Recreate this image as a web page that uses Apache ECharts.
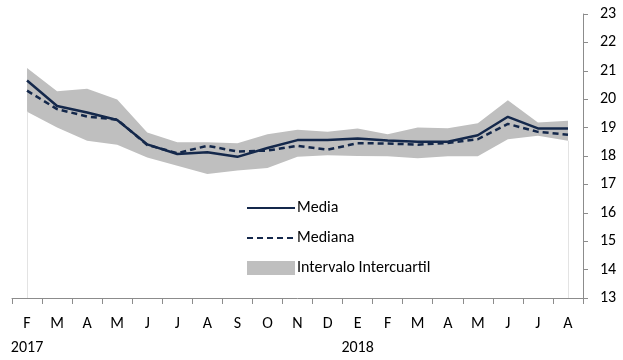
<!DOCTYPE html>
<html>
<head>
<meta charset="utf-8">
<script src="https://cdn.jsdelivr.net/npm/echarts@6/dist/echarts.min.js"></script>
<style>
  html, body { margin: 0; padding: 0; background: #fff; }
  #chart { width: 623px; height: 360px; }
</style>
</head>
<body>
<div id="chart"></div>
<script>
// meses feb-2017 .. ago-2018
const months = ["F", "M", "A", "M", "J", "J", "A", "S", "O", "N", "D", "E", "F", "M", "A", "M", "J", "J", "A"];
const years = { 0: "2017", 11: "2018" };
const media = [20.66, 19.76, 19.53, 19.27, 18.41, 18.07, 18.13, 17.97, 18.28, 18.56, 18.56, 18.62, 18.55, 18.5, 18.5, 18.73, 19.38, 18.97, 18.97];
const mediana = [20.3, 19.65, 19.39, 19.28, 18.39, 18.1, 18.36, 18.16, 18.19, 18.36, 18.22, 18.45, 18.44, 18.4, 18.46, 18.59, 19.13, 18.85, 18.75];
const q1 = [19.56, 19.0, 18.54, 18.4, 17.95, 17.66, 17.37, 17.49, 17.58, 17.97, 18.03, 18.0, 17.99, 17.92, 17.99, 17.99, 18.59, 18.71, 18.54];
const q3 = [21.1, 20.28, 20.37, 19.99, 18.83, 18.48, 18.48, 18.45, 18.77, 18.92, 18.85, 18.97, 18.77, 19.0, 18.98, 19.15, 19.96, 19.18, 19.24];
const yTicks = [13, 23, 1]; // min, max, paso

const categories = months.map((m, i) => "c" + i);
const bandWidth = q3.map((v, i) => +(v - q1[i]).toFixed(2));
const navy = "#14284b";
const font = "Carlito, Lato, sans-serif";

const chart = echarts.init(document.getElementById("chart"));
chart.setOption({
  animation: false,
  textStyle: { fontFamily: font },
  grid: { left: 12, right: 40, top: 14, bottom: 60 },
  legend: {
    orient: "vertical",
    left: 246,
    top: 200,
    padding: 0,
    itemWidth: 48,
    itemHeight: 14,
    itemGap: 14,
    textStyle: { fontSize: 16, color: "#000", fontFamily: font, padding: [0, 0, 0, -3] },
    data: [
      { name: "Media", itemStyle: { opacity: 0 } },
      { name: "Mediana", itemStyle: { opacity: 0 } },
      { name: "Intervalo Intercuartil", icon: "rect" },
    ],
  },
  xAxis: {
    type: "category",
    data: categories,
    boundaryGap: true,
    axisLine: { lineStyle: { color: "#8c8c8c", width: 1 } },
    axisTick: { show: true, interval: 0, length: 6, lineStyle: { color: "#8c8c8c" } },
    axisLabel: {
      interval: 0,
      margin: 14,
      fontSize: 16,
      color: "#000",
      lineHeight: 24,
      formatter: (val, i) => (years[i] !== undefined ? months[i] + "\n" + years[i] : months[i]),
    },
    splitLine: { show: false },
  },
  yAxis: {
    type: "value",
    position: "right",
    min: yTicks[0],
    max: yTicks[1],
    interval: yTicks[2],
    axisLine: { show: true, lineStyle: { color: "#8c8c8c", width: 1 } },
    axisTick: { show: true, inside: false, length: 5, lineStyle: { color: "#8c8c8c" } },
    axisLabel: { fontSize: 16, color: "#000", margin: 17 },
    splitLine: { show: false },
  },
  series: [
    {
      name: "q1",
      type: "line",
      stack: "band",
      data: q1,
      symbol: "none",
      lineStyle: { width: 0 },
      areaStyle: { opacity: 0 },
      silent: true,
      z: 1,
      markLine: {
        silent: true,
        symbol: "none",
        label: { show: false },
        lineStyle: { color: "#e3e3e3", width: 1, type: "solid" },
        data: [
          [{ coord: [0, yTicks[0]] }, { coord: [0, q1[0]] }],
          [{ coord: [q1.length - 1, yTicks[0]] }, { coord: [q1.length - 1, q1[q1.length - 1]] }],
        ],
      },
    },
    {
      name: "Intervalo Intercuartil",
      type: "line",
      stack: "band",
      data: bandWidth,
      symbol: "none",
      lineStyle: { width: 0 },
      itemStyle: { color: "#bfbfbf" },
      areaStyle: { color: "#bfbfbf", opacity: 1 },
      z: 2,
    },
    {
      name: "Mediana",
      type: "line",
      data: mediana,
      symbol: "none",
      itemStyle: { color: navy },
      lineStyle: { color: navy, width: 2.5, type: [6, 4] },
      z: 3,
    },
    {
      name: "Media",
      type: "line",
      data: media,
      symbol: "none",
      itemStyle: { color: navy },
      lineStyle: { color: navy, width: 2.5 },
      z: 4,
    },
  ],
});
</script>
</body>
</html>
